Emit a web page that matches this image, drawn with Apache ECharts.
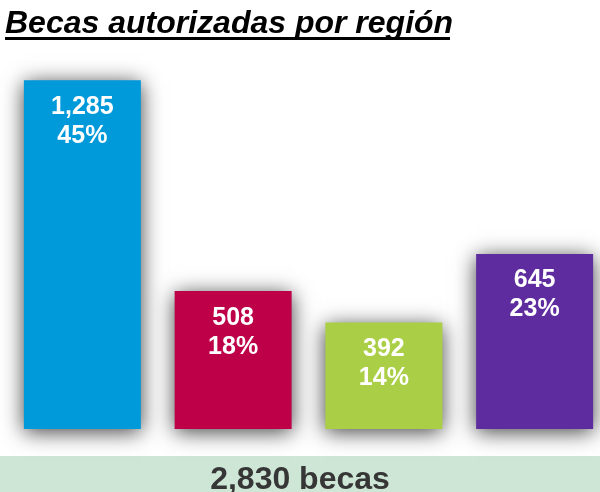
<!DOCTYPE html>
<html>
<head>
<meta charset="utf-8">
<script src="https://cdn.jsdelivr.net/npm/echarts@6/dist/echarts.min.js"></script>
<style>
  html, body { margin: 0; padding: 0; background: #fff; }
  #chart { width: 600px; height: 492px; }
</style>
</head>
<body>
<div id="chart"></div>
<script>
var regions = ['Región 1', 'Región 2', 'Región 3', 'Región 4'];
var becas = [1285, 508, 392, 645];
var colors = ['#0099d9', '#be0049', '#aacf46', '#5f2ca0'];

var total = 0;
for (var i = 0; i < becas.length; i++) total += becas[i];

function fmt(n){
    return n.toString().replace(/\B(?=(\d{3})+(?!\d))/g, ',');
}

var data = [];
for (var i = 0; i < becas.length; i++) {
    data.push({
        value: becas[i],
        itemStyle: { color: colors[i] }
    });
}

var myChart = echarts.init(document.getElementById('chart'));
var option = {
    animation: false,
    backgroundColor: '#ffffff',
    grid: { left: 7, right: -10, top: 49, bottom: 63, outerBoundsMode: 'none', containLabel: false },
    xAxis: {
        type: 'category',
        data: regions,
        show: false
    },
    yAxis: {
        type: 'value',
        min: 0,
        max: 1400,
        show: false
    },
    series: [
        {
            type: 'bar',
            barWidth: 117,
            data: data,
            itemStyle: {
                shadowBlur: 20,
                shadowColor: 'rgba(0,0,0,0.75)',
                shadowOffsetX: 0,
                shadowOffsetY: 3
            },
            label: {
                show: true,
                position: 'insideTop',
                distance: 12,
                color: '#fff',
                fontFamily: 'Liberation Sans, Arial, sans-serif',
                fontWeight: 'bold',
                fontSize: 25,
                lineHeight: 29,
                formatter: function(p){
                    return fmt(p.value) + '\n' + Math.round(p.value / total * 100) + '%';
                }
            }
        }
    ],
    graphic: [
        {
            type: 'text',
            left: 5,
            top: 8,
            style: {
                text: 'Becas autorizadas por región',
                fill: '#000',
                font: 'italic bold 32px "Liberation Sans", Arial, sans-serif'
            }
        },
        {
            type: 'rect',
            left: 5,
            top: 37,
            shape: { width: 445, height: 3 },
            style: { fill: '#000' }
        },
        {
            type: 'rect',
            left: 0,
            top: 456,
            shape: { width: 600, height: 36 },
            style: { fill: '#cde6d6' }
        },
        {
            type: 'text',
            left: 'center',
            top: 464,
            style: {
                text: fmt(total) + ' becas',
                fill: '#363636',
                font: 'bold 32px "Liberation Sans", Arial, sans-serif'
            }
        }
    ]
};
myChart.setOption(option);
</script>
</body>
</html>
